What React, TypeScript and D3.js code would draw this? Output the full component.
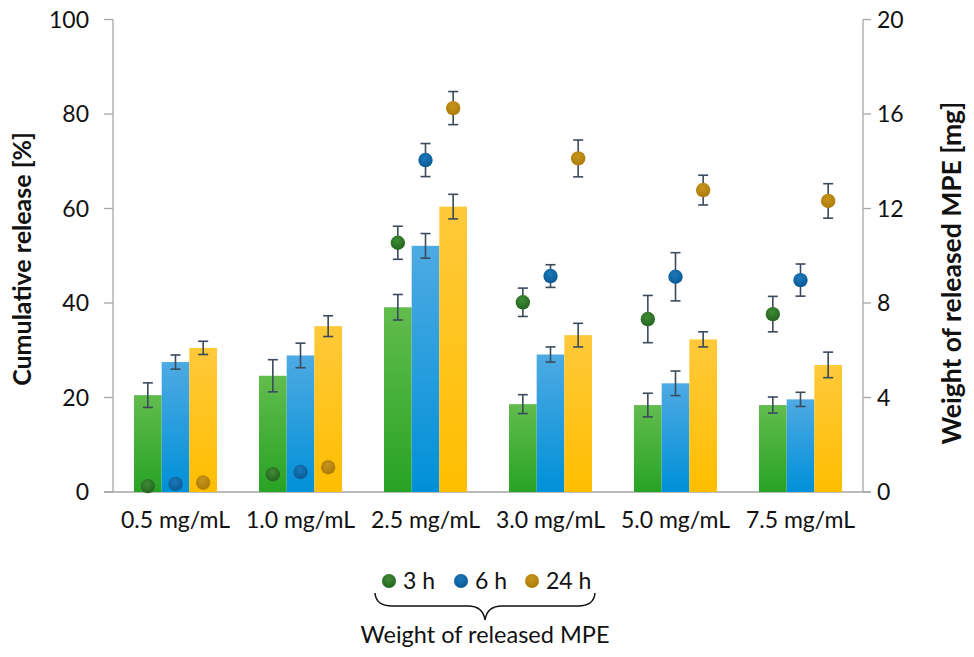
import React from 'react';
import * as d3 from 'd3';

const categories = ['0.5 mg/mL', '1.0 mg/mL', '2.5 mg/mL', '3.0 mg/mL', '5.0 mg/mL', '7.5 mg/mL'];
const seriesNames = ['3 h', '6 h', '24 h'];

// cumulative release [%] (bars)
const release3h = [20.5, 24.6, 39.1, 18.6, 18.4, 18.4];
const release6h = [27.5, 28.9, 52.1, 29.1, 23.0, 19.6];
const release24h = [30.5, 35.1, 60.4, 33.2, 32.3, 26.9];
const releaseErr3h = [2.6, 3.4, 2.7, 2.0, 2.5, 1.7];
const releaseErr6h = [1.5, 2.6, 2.6, 1.6, 2.6, 1.5];
const releaseErr24h = [1.4, 2.2, 2.6, 2.5, 1.6, 2.7];

// weight of released MPE [mg] (dots)
const weight3h = [0.25, 0.75, 10.55, 8.03, 7.32, 7.53];
const weight6h = [0.35, 0.85, 14.05, 9.14, 9.11, 8.97];
const weight24h = [0.4, 1.05, 16.25, 14.12, 12.78, 12.32];
const weightErr3h = [0, 0, 0.7, 0.6, 1.0, 0.75];
const weightErr6h = [0, 0, 0.7, 0.48, 1.02, 0.68];
const weightErr24h = [0, 0, 0.7, 0.78, 0.63, 0.73];

const leftTicks = [0, 20, 40, 60, 80, 100];
const rightTicks = [0, 4, 8, 12, 16, 20];

const barTop = ['#62bc4e', '#4eaae3', '#ffc93a'];
const barBottom = ['#28a324', '#0090d8', '#ffbe00'];
const dotLight = ['#3f8b36', '#1a78bb', '#c8951c'];
const dotDark = ['#22611c', '#0a5890', '#a97a08'];

const W = 974;
const H = 657;
const left = 113;
const right = 863;
const top = 19.5;
const bottom = 492;
const font = 'Lato, "Open Sans", sans-serif';

const App: React.FC = () => {
  const releases = [release3h, release6h, release24h];
  const releaseErrs = [releaseErr3h, releaseErr6h, releaseErr24h];
  const weights = [weight3h, weight6h, weight24h];
  const weightErrs = [weightErr3h, weightErr6h, weightErr24h];

  const x = d3.scaleBand<string>()
    .domain(categories)
    .range([left, right])
    .paddingInner(0.336)
    .paddingOuter(0.168);
  const xi = d3.scaleBand<string>()
    .domain(seriesNames)
    .range([0, x.bandwidth()]);
  const yL = d3.scaleLinear().domain([0, 100]).range([bottom, top]);
  const yR = d3.scaleLinear().domain([0, 20]).range([bottom, top]);

  const errColor = '#3b4a5c';
  const cap = 5;

  const errBar = (cx: number, y1: number, y2: number, key: string) => (
    <g key={key} stroke={errColor} strokeWidth={1.6}>
      <line x1={cx} x2={cx} y1={y1} y2={y2} />
      <line x1={cx - cap} x2={cx + cap} y1={y1} y2={y1} />
      <line x1={cx - cap} x2={cx + cap} y1={y2} y2={y2} />
    </g>
  );

  const legendItems = [
    { cx: 389, tx: 403 },
    { cx: 461, tx: 475 },
    { cx: 532, tx: 546 },
  ];

  return (
    <svg width={W} height={H} style={{ position: 'absolute', left: 0, top: 0, background: '#fff' }}>
      <defs>
        {seriesNames.map((s, i) => (
          <linearGradient key={s} id={`bar${i}`} x1="0" y1="0" x2="0" y2="1">
            <stop offset="0" stopColor={barTop[i]} />
            <stop offset="1" stopColor={barBottom[i]} />
          </linearGradient>
        ))}
        {seriesNames.map((s, i) => (
          <radialGradient key={s} id={`dot${i}`} cx="0.45" cy="0.35" r="0.7">
            <stop offset="0" stopColor={dotLight[i]} />
            <stop offset="1" stopColor={dotDark[i]} />
          </radialGradient>
        ))}
      </defs>

      {/* axes */}
      <g stroke="#a6a6a6" strokeWidth={1.3}>
        <line x1={left} x2={left} y1={top} y2={bottom} />
        <line x1={right} x2={right} y1={top} y2={bottom} />
        <line x1={left - 9} x2={right + 8} y1={bottom} y2={bottom} />
        {leftTicks.map(t => (
          <line key={t} x1={left - 9} x2={left} y1={yL(t)} y2={yL(t)} />
        ))}
        {rightTicks.map(t => (
          <line key={t} x1={right} x2={right + 8} y1={yR(t)} y2={yR(t)} />
        ))}
      </g>
      <g fontFamily={font} fontSize={23} fill="#111">
        {leftTicks.map(t => (
          <text key={t} x={89} y={yL(t)} dy="0.36em" textAnchor="end">{t}</text>
        ))}
        {rightTicks.map(t => (
          <text key={t} x={877} y={yR(t)} dy="0.36em">{t}</text>
        ))}
        {categories.map(c => (
          <text key={c} x={(x(c) ?? 0) + x.bandwidth() / 2} y={528} textAnchor="middle">{c}</text>
        ))}
      </g>

      {/* bars */}
      {releases.map((vals, si) =>
        vals.map((v, ci) => {
          const bx = (x(categories[ci]) ?? 0) + (xi(seriesNames[si]) ?? 0);
          return (
            <rect key={`b${si}-${ci}`} x={bx} y={yL(v)} width={xi.bandwidth()} height={bottom - yL(v)}
              fill={`url(#bar${si})`} />
          );
        })
      )}
      {releases.map((vals, si) =>
        vals.map((v, ci) => {
          const cx = (x(categories[ci]) ?? 0) + (xi(seriesNames[si]) ?? 0) + xi.bandwidth() / 2;
          const e = releaseErrs[si][ci];
          return errBar(cx, yL(v + e), yL(v - e), `be${si}-${ci}`);
        })
      )}

      {/* dots */}
      {weights.map((vals, si) =>
        vals.map((v, ci) => {
          const cx = (x(categories[ci]) ?? 0) + (xi(seriesNames[si]) ?? 0) + xi.bandwidth() / 2;
          const e = weightErrs[si][ci];
          return (
            <g key={`d${si}-${ci}`}>
              {e > 0 && errBar(cx, yR(v + e), yR(v - e), 'e')}
              <circle cx={cx} cy={yR(v)} r={7.2} fill={`url(#dot${si})`} />
            </g>
          );
        })
      )}

      {/* axis titles */}
      <text transform={`translate(31,259) rotate(-90)`} textAnchor="middle" fontFamily={font}
        fontWeight="bold" fontSize={25} fill="#111">Cumulative release [%]</text>
      <text transform={`translate(961,273) rotate(-90)`} textAnchor="middle" fontFamily={font}
        fontWeight="bold" fontSize={26.5} fill="#111">Weight of released MPE [mg]</text>

      {/* legend */}
      {legendItems.map((l, i) => (
        <g key={i}>
          <circle cx={l.cx} cy={581} r={7} fill={`url(#dot${i})`} />
          <text x={l.tx} y={589} fontFamily={font} fontSize={23} fill="#111">{seriesNames[i]}</text>
        </g>
      ))}
      <path d="M375,593 Q376,606 392,606 L468,606 Q483,606 485,620 Q487,606 502,606 L578,606 Q594,606 595,593"
        fill="none" stroke="#111" strokeWidth={1.5} />
      <text x={485} y={643} textAnchor="middle" fontFamily={font} fontSize={23.5} fill="#111">
        Weight of released MPE
      </text>
    </svg>
  );
};

export default App;
